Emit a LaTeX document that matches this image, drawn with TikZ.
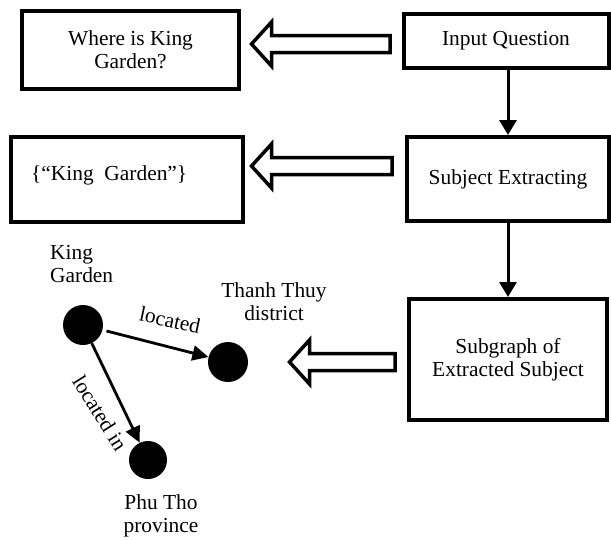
\documentclass[tikz,border=0pt]{standalone}
\usepackage{fontspec}
\setmainfont{Liberation Serif}
\usetikzlibrary{arrows.meta,calc}
% block arrow: #1 tail x, #2 tip x, #3 centre y
\newcommand\drawhollow[3]{%
  \draw[hollow] (#1,#3-8.5) -- (#2+20,#3-8.5) -- (#2+20,#3-22) -- (#2,#3)
    -- (#2+20,#3+22) -- (#2+20,#3+8.5) -- (#1,#3+8.5) -- cycle;}
\begin{document}
\begin{tikzpicture}[x=1pt,y=-1pt,
  every node/.style={font=\fontsize{21.4}{23}\selectfont},
  box/.style={draw,line width=4pt,inner sep=0pt,align=center},
  flow/.style={line width=3pt,-{Triangle[length=15pt,width=17pt]}},
  hollow/.style={draw,line width=3.5pt,fill=white,line join=miter},
  vertex/.style={circle,fill=black,inner sep=0pt,minimum size=40pt},
  rel/.style={line width=2.8pt,-{Triangle[length=16pt,width=15pt]}},
  lbl/.style={align=center,inner sep=0pt}]
\useasboundingbox (0,0) rectangle (611,539);

% pipeline boxes
\node[box,minimum width=217,minimum height=78] (question) at (130.5,50) {Where is King\\Garden?};
\node[box,minimum width=205,minimum height=54] (input) at (506,41) {Input Question};
\node[box,minimum width=232,minimum height=85] (subjectset) at (127,179.5) {};
\node[lbl,anchor=west] (subjecttext) at (31,175) {\{“King\ \ Garden”\}};
\node[box,minimum width=202,minimum height=84] (extract) at (508,179) {Subject Extracting};
\node[box,minimum width=198,minimum height=121] (subgraph) at (508,359.5) {Subgraph of\\Extracted Subject};

\draw[flow] (input.south -| extract.north) -- (extract.north);
\draw[flow] (extract.south) -- (subgraph.north);

% block arrows pointing to the outputs
\drawhollow{390}{251.5}{44}
\drawhollow{392}{251.5}{166}
\drawhollow{395}{289.5}{362}

% knowledge subgraph
\node[vertex] (kg) at (83,325) {};
\node[vertex] (tt) at (228,362) {};
\node[vertex,minimum size=38pt] (pt) at (148,460) {};
\node[lbl,anchor=west,align=left] (kglbl) at (50,264) {King\\Garden};
\node[lbl] (ttlbl) at (274,302) {Thanh Thuy\\district};
\node[lbl] (ptlbl) at (161,516) {Phu Tho\\province};
\draw[rel,shorten <=4pt] (kg) -- (tt);
\draw[rel] (kg) -- (pt);
\node[lbl,rotate=-12] (loc1) at (170,320) {located};
\node[lbl,rotate=-58] (loc2) at (100,413) {located in};
\end{tikzpicture}
\end{document}
